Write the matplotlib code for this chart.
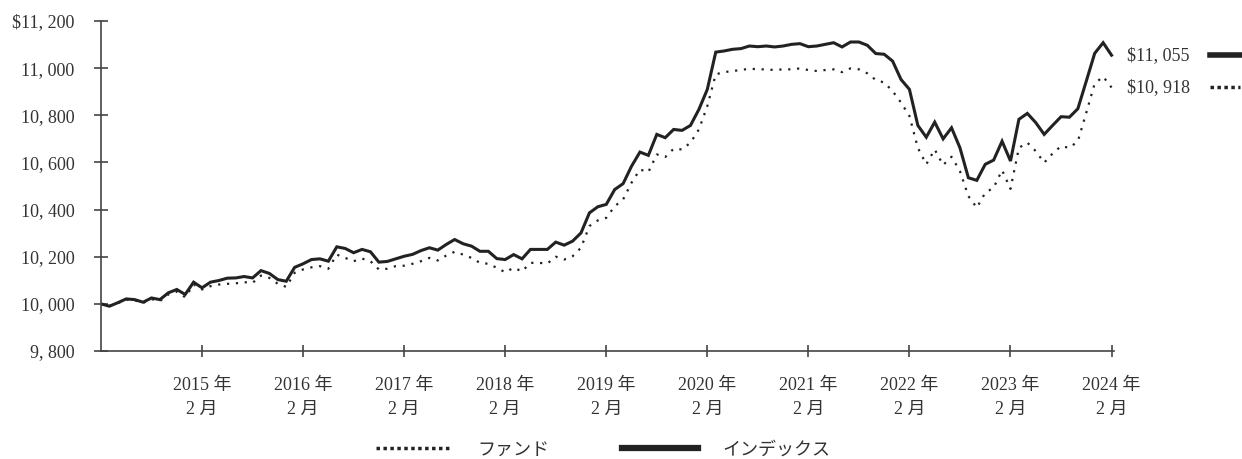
import numpy as np
import matplotlib
matplotlib.use("Agg")
import matplotlib.pyplot as plt
from matplotlib.lines import Line2D
from matplotlib.ticker import FuncFormatter

# monthly values, Feb 2014 .. Feb 2024
index_vals = [10000, 9990, 10005, 10021, 10018, 10007, 10025, 10018, 10047, 10061,
              10040, 10092, 10068, 10092, 10099, 10109, 10110, 10116, 10110, 10141,
              10129, 10103, 10096, 10155, 10170, 10188, 10191, 10181, 10242, 10235,
              10217, 10231, 10221, 10177, 10180, 10191, 10202, 10210, 10226, 10238,
              10228, 10252, 10273, 10255, 10245, 10223, 10223, 10192, 10188, 10209,
              10191, 10231, 10231, 10231, 10262, 10249, 10266, 10301, 10386, 10412,
              10422, 10485, 10510, 10584, 10644, 10630, 10719, 10705, 10740, 10736,
              10757, 10825, 10910, 11068, 11073, 11080, 11083, 11094, 11091, 11094,
              11090, 11094, 11101, 11104, 11091, 11094, 11101, 11108, 11090, 11111,
              11111, 11097, 11062, 11059, 11030, 10952, 10910, 10757, 10707, 10771,
              10700, 10747, 10662, 10535, 10524, 10592, 10610, 10690, 10606, 10783,
              10808, 10769, 10719, 10757, 10794, 10792, 10828, 10945, 11063, 11108,
              11055]

fund_vals = [10000, 9992, 10003, 10018, 10015, 10004, 10020, 10012, 10040, 10052,
             10028, 10082, 10061, 10075, 10082, 10085, 10087, 10092, 10089, 10120,
             10110, 10085, 10072, 10132, 10146, 10155, 10160, 10149, 10209, 10195,
             10181, 10192, 10181, 10146, 10149, 10160, 10162, 10170, 10181, 10195,
             10184, 10205, 10221, 10209, 10195, 10174, 10170, 10153, 10134, 10153,
             10138, 10174, 10174, 10171, 10200, 10188, 10202, 10238, 10330, 10354,
             10365, 10414, 10443, 10514, 10570, 10559, 10634, 10623, 10658, 10655,
             10684, 10740, 10839, 10974, 10983, 10988, 10992, 10998, 10995, 10995,
             10992, 10995, 10995, 10999, 10992, 10988, 10992, 10995, 10983, 10999,
             10995, 10978, 10950, 10939, 10903, 10854, 10797, 10662, 10592, 10655,
             10589, 10624, 10563, 10457, 10408, 10471, 10493, 10567, 10488, 10662,
             10684, 10648, 10599, 10638, 10669, 10662, 10690, 10811, 10935, 10964,
             10918]

tick_years = [2015, 2016, 2017, 2018, 2019, 2020, 2021, 2022, 2023, 2024]
series_names = ["ファンド", "インデックス"]

FONT = ["Liberation Serif", "Noto Sans CJK JP"]
plt.rcParams["font.family"] = FONT
plt.rcParams["font.size"] = 13

ink = "#222222"
axis_col = "#444444"
dots = (0, (1, 3))

months = np.arange(len(index_vals))

fig = plt.figure(figsize=(12.42, 4.59), dpi=100)
ax = fig.add_axes([0.0813, 0.2353, 0.8157, 0.7189])

ax.plot(months, index_vals, color=ink, lw=2.2, solid_joinstyle="miter")
ax.plot(months, fund_vals, color=ink, lw=1.6, linestyle=dots)

ax.set_xlim(0, 120.3)
ax.set_ylim(9800, 11200)

for s in ["top", "right"]:
    ax.spines[s].set_visible(False)
for s in ["left", "bottom"]:
    ax.spines[s].set_color(axis_col)
    ax.spines[s].set_linewidth(1.2)

ax.set_yticks(np.arange(9800, 11201, 200))
ax.yaxis.set_major_formatter(FuncFormatter(
    lambda v, p: ("$" if v == 11200 else "") + "{:,}".format(int(v)).replace(",", ", ")))
ax.set_xticks([12 * (i + 1) for i in range(len(tick_years))])
ax.set_xticklabels(["%d 年\n2 月" % y for y in tick_years])
for lbl in ax.get_xticklabels():
    lbl.set_linespacing(1.5)
ax.tick_params(axis="y", direction="inout", length=10, width=1.2, color=axis_col,
               pad=14, labelcolor="#333333", labelsize=13)
ax.tick_params(axis="x", direction="inout", length=8, width=1.2, color=axis_col,
               pad=15, labelcolor="#333333", labelsize=13)

# end values on the right with line keys
last = [(index_vals[-1], "-", 4.0), (fund_vals[-1], (0, (1, 1)), 2.5)]
for val, ls, lw in last:
    ax.annotate("${:,}".format(val).replace(",", ", "), xy=(months[-1], val),
                xytext=(11, 0), textcoords="offset points", va="center", ha="left",
                fontsize=13, color="#333333", annotation_clip=False)
    ax.plot([131.7, 135.3], [val, val], color=ink, lw=lw, linestyle=ls, clip_on=False)

handles = [Line2D([], [], color=ink, lw=2.5, linestyle=(0, (1, 1))),
           Line2D([], [], color=ink, lw=4.5)]
fig.legend(handles, series_names, loc="lower center", bbox_to_anchor=(0.486, -0.035),
           ncol=2, frameon=False, handlelength=4.2, handletextpad=1.4,
           columnspacing=4.0, fontsize=13, labelcolor="#333333")

fig.savefig("out.png", dpi=100, facecolor="white")
